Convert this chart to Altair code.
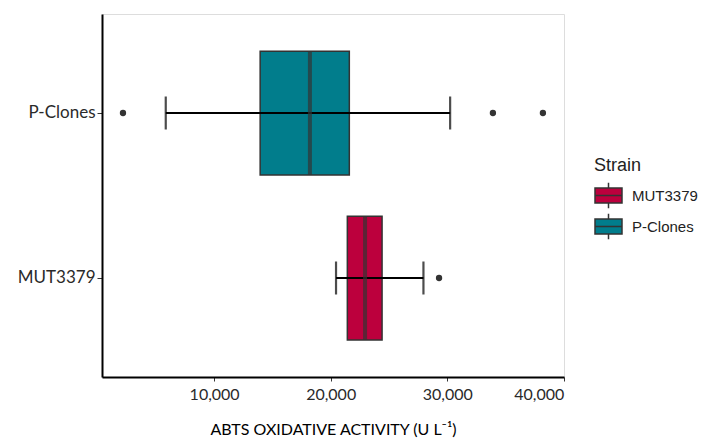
import altair as alt
import pandas as pd

strains = ["P-Clones", "MUT3379"]
q1 = [13950, 21430]
median = [18220, 22950]
q3 = [21600, 24410]
whisker_low = [5850, 20460]
whisker_high = [30250, 27960]

outlier_strain = ["P-Clones", "P-Clones", "P-Clones", "MUT3379"]
outlier_value = [2180, 33920, 38210, 29300]

legend_order = ["MUT3379", "P-Clones"]
colors = ["#BC003D", "#017D8C"]

box_df = pd.DataFrame({
    "Strain": strains, "q1": q1, "median": median, "q3": q3,
    "lo": whisker_low, "hi": whisker_high,
})
out_df = pd.DataFrame({"Strain": outlier_strain, "value": outlier_value})

y_enc = alt.Y("Strain:N", sort=strains,
              scale=alt.Scale(paddingInner=0.25, paddingOuter=0.225),
              axis=alt.Axis(title=None, labelFont="Lato", labelFontSize=17,
                            labelColor="#2a2a2a", tickColor="#333333",
                            tickSize=5, tickWidth=1, labelPadding=2,
                            domainColor="#000000", domainWidth=2))
x_scale = alt.Scale(domain=[380, 40020], nice=False, zero=False)
x_axis = alt.Axis(title="ABTS OXIDATIVE ACTIVITY (U L⁻¹)", values=[10000, 20000, 30000, 40000],
                  format=",d", labelFont="Lato", labelFontSize=16, labelColor="#2a2a2a",
                  tickColor="#333333", tickSize=4, tickWidth=1, labelPadding=5,
                  domainColor="#000000", domainWidth=2, grid=False,
                  titleFont="Lato", titleFontSize=16, titleFontWeight="normal",
                  titleColor="#000000", titlePadding=19)

sym_path = ("M-1,-0.55H1V0.55H-1Z M-1,0H1 M0,-0.55V-0.95 M0,0.55V0.95")

base = alt.Chart(box_df)

box = base.mark_bar(stroke="#333333", strokeWidth=1.5).encode(
    x=alt.X("q1:Q", scale=x_scale, axis=x_axis),
    x2="q3:Q",
    y=y_enc,
    color=alt.Color("Strain:N", scale=alt.Scale(domain=legend_order, range=colors),
                    legend=alt.Legend(title="Strain", orient="none", legendX=492, legendY=143,
                                      titleFont="Liberation Sans", titleFontSize=18,
                                      titleFontWeight="normal", titleColor="#222222",
                                      titlePadding=6,
                                      labelFont="Liberation Sans", labelFontSize=15,
                                      labelColor="#222222", labelOffset=9,
                                      symbolType=sym_path, symbolSize=729,
                                      symbolStrokeColor="#333333", symbolStrokeWidth=1.5,
                                      symbolOpacity=1,
                                      rowPadding=-4)),
)

whisker = base.mark_rule(color="#000000", strokeWidth=2.2).encode(
    x="lo:Q", x2="hi:Q", y=alt.Y("Strain:N", sort=strains))

cap_lo = base.mark_tick(color="#000000", thickness=2.2, size=33, orient="vertical").encode(
    x="lo:Q", y=alt.Y("Strain:N", sort=strains))
cap_hi = base.mark_tick(color="#000000", thickness=2.2, size=33, orient="vertical").encode(
    x="hi:Q", y=alt.Y("Strain:N", sort=strains))

med = base.mark_tick(color="#333333", thickness=4, size=124, orient="vertical").encode(
    x="median:Q", y=alt.Y("Strain:N", sort=strains))

pts = alt.Chart(out_df).mark_circle(color="#333333", size=40, opacity=1).encode(
    x="value:Q", y=alt.Y("Strain:N", sort=strains))

chart = alt.layer(box, whisker, cap_lo, cap_hi, med, pts).properties(
    width=462, height=363,
    padding={"left": 102, "top": 14, "right": 138, "bottom": 62},
    autosize=alt.AutoSizeParams(type="none"),
).configure_view(stroke=None).configure(background="white")

chart.save("out.html", embed_options={"renderer": "svg", "actions": False})
